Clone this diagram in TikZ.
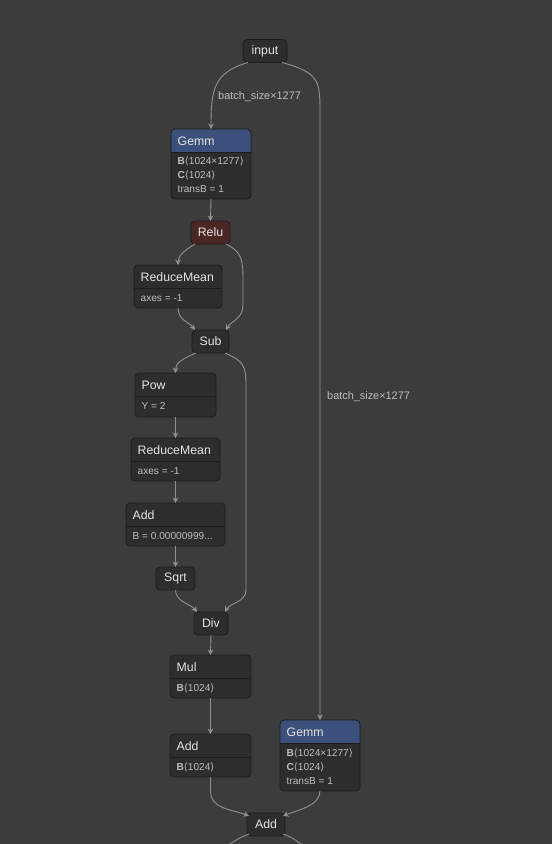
\documentclass[tikz,border=0pt]{standalone}
\usepackage{fontspec}
\setmainfont{Liberation Sans}
\newfontfamily\bracketfont{DejaVu Sans}
\usetikzlibrary{arrows.meta, positioning}

\definecolor{canvas}{RGB}{60,60,60}
\definecolor{cardbody}{RGB}{45,45,45}
\definecolor{cardborder}{RGB}{28,28,28}
\definecolor{gemmhead}{RGB}{59,80,122}
\definecolor{reluhead}{RGB}{75,39,36}
\definecolor{wire}{RGB}{145,145,145}
\definecolor{titletext}{RGB}{228,228,228}
\definecolor{attrtext}{RGB}{190,190,190}

\newcommand{\angl}{{\bracketfont\char"27E8}}
\newcommand{\angr}{{\bracketfont\char"27E9}}

% card with a header band: name, centre, width, height, header fill, title
\newcommand{\opcard}[6]{%
  \node[card, minimum width=#3, minimum height=#4] (#1) at #2 {};
  \begin{scope}
    \clip[rounded corners=4pt] (#1.south west) rectangle (#1.north east);
    \fill[#5] (#1.north west) rectangle ([yshift=-23pt]#1.north east);
  \end{scope}
  \draw[cardborder, line width=0.8pt] ([yshift=-23pt]#1.north west) -- ([yshift=-23pt]#1.north east);
  \draw[cardborder, line width=0.8pt, rounded corners=4pt] (#1.south west) rectangle (#1.north east);
  \node[cardtitle] (#1-title) at ([xshift=6.5pt,yshift=-12pt]#1.north west) {#6};
}

\begin{document}
\begin{tikzpicture}[x=1pt, y=-1pt,
    card/.style={fill=cardbody, rounded corners=4pt, inner sep=0pt, outer sep=0pt},
    cardtitle/.style={anchor=west, inner sep=0pt, text=titletext, font=\fontsize{12.3}{14}\selectfont},
    attr/.style={anchor=west, inner sep=0pt, text=attrtext, font=\fontsize{10.1}{12}\selectfont},
    op/.style={draw=cardborder, line width=0.8pt, fill=cardbody, rounded corners=4pt, minimum height=23pt,
      inner sep=0pt, outer sep=0pt, text=titletext, font=\fontsize{12.3}{14}\selectfont},
    shape label/.style={anchor=west, inner sep=0pt, text=attrtext, font=\fontsize{10.9}{12}\selectfont},
    flow/.style={draw=wire, line width=0.9pt, -{Stealth[length=5.5pt, width=5.5pt]}},
    flowline/.style={draw=wire, line width=0.9pt}]
    \useasboundingbox (0,0) rectangle (552,844);
    \fill[canvas] (0,0) rectangle (552,844);

    % simple operators
    \node[op, minimum width=44pt] (input) at (265,51) {input};
    \node[op, minimum width=39pt, fill=reluhead] (relu) at (210.5,232.5) {Relu};
    \node[op, minimum width=37pt] (sub) at (210.5,341.5) {Sub};
    \node[op, minimum width=39pt] (sqrt) at (175.5,578.5) {Sqrt};
    \node[op, minimum width=34pt] (div) at (211,623.5) {Div};
    \node[op, minimum width=38pt] (addC) at (266,824.5) {Add};

    % operators with attributes
    \opcard{gemmA}{(211,164)}{80pt}{70pt}{gemmhead}{Gemm}
    \node[attr] (gemmA-b) at ([xshift=6.5pt,yshift=-32pt]gemmA.north west) {\textbf{B}\angl1024×1277\angr};
    \node[attr] (gemmA-c) at ([xshift=6.5pt,yshift=-46pt]gemmA.north west) {\textbf{C}\angl1024\angr};
    \node[attr] (gemmA-t) at ([xshift=6.5pt,yshift=-60pt]gemmA.north west) {transB = 1};

    \opcard{rmA}{(178,286.5)}{88pt}{43pt}{cardbody}{ReduceMean}
    \node[attr] (rmA-axes) at ([xshift=6.5pt,yshift=-33pt]rmA.north west) {axes = -1};

    \opcard{pow}{(175.5,395)}{81pt}{44pt}{cardbody}{Pow}
    \node[attr] (pow-y) at ([xshift=6.5pt,yshift=-33pt]pow.north west) {Y = 2};

    \opcard{rmB}{(175.5,459.5)}{89pt}{43pt}{cardbody}{ReduceMean}
    \node[attr] (rmB-axes) at ([xshift=6.5pt,yshift=-33pt]rmB.north west) {axes = -1};

    \opcard{addA}{(175.5,524.5)}{99pt}{43pt}{cardbody}{Add}
    \node[attr] (addA-b) at ([xshift=6.5pt,yshift=-33pt]addA.north west) {B = 0.00000999...};

    \opcard{mul}{(210.5,676.5)}{81pt}{43pt}{cardbody}{Mul}
    \node[attr] (mul-b) at ([xshift=6.5pt,yshift=-33pt]mul.north west) {\textbf{B}\angl1024\angr};

    \opcard{addB}{(210.5,755.5)}{81pt}{43pt}{cardbody}{Add}
    \node[attr] (addB-b) at ([xshift=6.5pt,yshift=-33pt]addB.north west) {\textbf{B}\angl1024\angr};

    \opcard{gemmB}{(320,755.5)}{80pt}{71pt}{gemmhead}{Gemm}
    \node[attr] (gemmB-b) at ([xshift=6.5pt,yshift=-33pt]gemmB.north west) {\textbf{B}\angl1024×1277\angr};
    \node[attr] (gemmB-c) at ([xshift=6.5pt,yshift=-47pt]gemmB.north west) {\textbf{C}\angl1024\angr};
    \node[attr] (gemmB-t) at ([xshift=6.5pt,yshift=-61pt]gemmB.north west) {transB = 1};

    % edge labels
    \node[shape label] (shapeA) at (218,96.5) {batch\_size×1277};
    \node[shape label] (shapeB) at (327,396.5) {batch\_size×1277};

    % off-page ends
    \coordinate (outL) at (218,852);
    \coordinate (outR) at (312,852);

    % connectors
    \draw[flow] ([xshift=-17pt]input.south) .. controls +(-34,10) and +(0,-40) .. (gemmA.north);
    \draw[flow] ([xshift=17pt]input.south) .. controls +(36,10) and +(0,-30) .. (320,110) -- (gemmB.north);
    \draw[flow] (gemmA.south) -- (relu.north);
    \draw[flow] ([xshift=4pt]relu.south west) .. controls +(-10,6) and +(0,-9) .. (rmA.north);
    \draw[flow] ([xshift=-4pt]relu.south east) .. controls +(16,8) and +(0,-20) .. (243,280) -- (243,305)
      .. controls +(0,14) and +(5,-9) .. ([xshift=-3pt]sub.north east);
    \draw[flow] (rmA.south) .. controls +(0,12) and +(-6,-8) .. ([xshift=3pt]sub.north west);
    \draw[flow] ([xshift=4pt]sub.south west) .. controls +(-14,6) and +(0,-10) .. (pow.north);
    \draw[flow] ([xshift=-4pt]sub.south east) .. controls +(18,8) and +(0,-20) .. (246,385) -- (246,590)
      .. controls +(0,12) and +(5,-9) .. ([xshift=-3pt]div.north east);
    \draw[flow] (pow.south) -- (rmB.north);
    \draw[flow] (rmB.south) -- (addA.north);
    \draw[flow] (addA.south) -- (sqrt.north);
    \draw[flow] (sqrt.south) .. controls +(0,12) and +(-6,-8) .. ([xshift=3pt]div.north west);
    \draw[flow] (div.south) -- (mul.north);
    \draw[flow] (mul.south) -- (addB.north);
    \draw[flow] (addB.south) -- ++(0,14) .. controls +(0,18) and +(-18,-7) .. ([xshift=2pt,yshift=-3pt]addC.north west);
    \draw[flow] (gemmB.south) .. controls +(0,14) and +(18,-7) .. ([xshift=-2pt,yshift=-3pt]addC.north east);
    \draw[flowline] ([xshift=2pt,yshift=2pt]addC.south west) .. controls +(-10,4) .. (outL);
    \draw[flowline] ([xshift=-2pt,yshift=2pt]addC.south east) .. controls +(10,4) .. (outR);
\end{tikzpicture}
\end{document}
